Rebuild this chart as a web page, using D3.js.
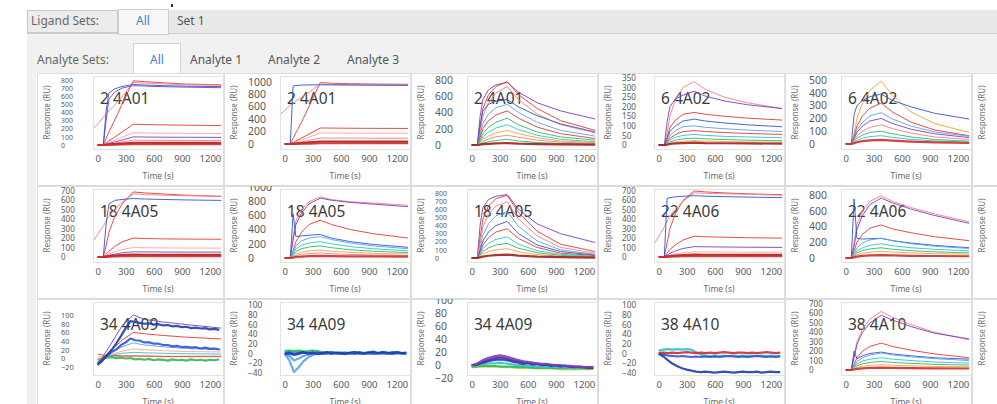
<!DOCTYPE html>
<html>
<head>
<meta charset="utf-8">
<script src="https://cdn.jsdelivr.net/npm/d3@7"></script>
<style>
  html, body { margin: 0; padding: 0; background: #fff; overflow: hidden; }
  svg { display: block; font-family: "Noto Sans", "Open Sans", sans-serif; }
</style>
</head>
<body>
<svg id="chart" width="997" height="404"></svg>
<script>
// ---- data ----
const ligandLabel = "Ligand Sets:";
const ligandTabs = ["All", "Set 1"];
const analyteLabel = "Analyte Sets:";
const analyteTabs = ["All", "Analyte 1", "Analyte 2", "Analyte 3"];

const panelTitles = [
  "2 4A01", "2 4A01", "2 4A01", "6 4A02", "6 4A02",
  "18 4A05", "18 4A05", "18 4A05", "22 4A06", "22 4A06",
  "34 4A09", "34 4A09", "34 4A09", "38 4A10", "38 4A10"
];
const xAxisTitle = "Time (s)";
const yAxisTitle = "Response (RU)";
const xTicks = [0, 300, 600, 900, 1200];
const xDomain = [-50, 1340];

const panelYDomains = [
  [-49, 849], [-80, 1091], [-49, 849], [-21, 360], [-39, 531],
  [-53, 721], [-56, 968], [-49, 849], [-53, 721], [-51, 876],
  [-38, 130], [-44, 106], [-15, 97], [-44, 106], [-53, 721]
];
const panelYTicks = [
  [0, 100, 200, 300, 400, 500, 600, 700, 800],
  [0, 200, 400, 600, 800, 1000],
  [0, 200, 400, 600, 800],
  [0, 50, 100, 150, 200, 250, 300, 350],
  [0, 100, 200, 300, 400, 500, 600],
  [0, 100, 200, 300, 400, 500, 600, 700],
  [0, 200, 400, 600, 800, 1000],
  [0, 100, 200, 300, 400, 500, 600, 700, 800],
  [0, 100, 200, 300, 400, 500, 600, 700],
  [0, 200, 400, 600, 800],
  [-20, 0, 20, 40, 60, 80, 100],
  [-40, -20, 0, 20, 40, 60, 80, 100],
  [-20, 0, 20, 40, 60, 80, 100],
  [-40, -20, 0, 20, 40, 60, 80, 100],
  [0, 100, 200, 300, 400, 500, 600, 700]
];

// sample times (s) for the sparse curves and for the measured noisy traces
const timePoints = [-40, 0, 60, 90, 120, 180, 260, 380, 500, 700, 950, 1320];
const timePointsDense = [0, 50, 100, 150, 200, 250, 300, 350, 400, 450, 500, 550, 600, 650,
  700, 750, 800, 850, 900, 950, 1000, 1050, 1100, 1150, 1200, 1250, 1300];

const curvesP01 = [
  { s: "A", v: [null, 0, 0, 80, 160, 300, 500, 790, 780, 765, 750, 740] },
  { s: "B", v: [210, 260, 340, 380, 420, 490, 590, 770, 762, 752, 742, 735] },
  { s: "E", v: [null, 0, 0, 300, 560, 650, 700, 730, 725, 718, 712, 705] },
  { s: "C", v: [null, 0, 0, 420, 640, 690, 720, 745, 738, 730, 724, 718] },
  { s: "A", v: [null, 0, 0, 25, 50, 95, 160, 255, 252, 248, 244, 240] },
  { s: "J", v: [null, 0, 0, 15, 30, 56, 95, 150, 148, 146, 144, 142] },
  { s: "E", v: [null, 0, 0, 10, 20, 37, 62, 100, 98, 96, 95, 94] },
  { s: "B", v: [null, 0, 0, 6, 12, 22, 37, 60, 59, 58, 57, 56] },
  { s: "I", v: [null, 0, 0, 3, 6, 11, 18, 28, 28, 27, 27, 27] },
  { s: "N", v: [null, 0, 0, 1, 3, 5, 8, 12, 12, 12, 12, 12] }
];
const curvesP02 = [
  { s: "A", v: [null, 0, 0, 90, 180, 350, 600, 985, 975, 968, 962, 958] },
  { s: "B", v: [480, 540, 620, 650, 690, 750, 830, 960, 955, 950, 946, 942] },
  { s: "C", v: [null, 0, 0, 930, 940, 945, 948, 950, 948, 946, 944, 942] },
  { s: "A", v: [null, 0, 0, 25, 50, 95, 160, 257, 255, 253, 251, 250] },
  { s: "J", v: [null, 0, 0, 17, 34, 65, 110, 177, 176, 175, 174, 173] },
  { s: "B", v: [null, 0, 0, 9, 18, 35, 60, 96, 95, 95, 94, 94] },
  { s: "I", v: [null, 0, 0, 4, 8, 15, 25, 40, 40, 39, 39, 39] },
  { s: "N", v: [null, 0, 0, 1, 2, 4, 7, 12, 12, 12, 12, 12] }
];
const curvesP03 = [
  { s: "E", v: [null, 0, 0, 350, 560, 680, 740, 770, 650, 520, 420, 320] },
  { s: "A", v: [null, 0, 0, 200, 450, 620, 720, 780, 620, 450, 300, 180] },
  { s: "B", v: [null, 0, 0, 150, 350, 520, 640, 720, 560, 380, 250, 150] },
  { s: "C", v: [null, 0, 0, 250, 420, 500, 540, 560, 470, 360, 260, 160] },
  { s: "D", v: [null, 0, 0, 120, 260, 380, 460, 500, 400, 280, 180, 110] },
  { s: "A", v: [null, 0, 0, 90, 200, 300, 370, 420, 330, 220, 140, 80] },
  { s: "F", v: [null, 0, 0, 60, 140, 220, 280, 330, 250, 160, 100, 60] },
  { s: "G", v: [null, 0, 0, 40, 100, 160, 210, 250, 190, 120, 70, 40] },
  { s: "H", v: [null, 0, 0, 30, 70, 110, 150, 180, 140, 90, 50, 30] },
  { s: "B", v: [null, 0, 0, 20, 45, 75, 100, 120, 95, 60, 35, 20] },
  { s: "F", v: [null, 0, 0, 10, 25, 40, 55, 70, 50, 30, 20, 10] },
  { s: "I", v: [null, 0, 0, 5, 10, 15, 20, 25, 18, 12, 8, 5] }
];
const curvesP04 = [
  { s: "B", v: [null, 0, 0, 60, 150, 240, 300, 330, 290, 250, 220, 190] },
  { s: "E", v: [null, 0, 0, 120, 200, 240, 260, 280, 255, 230, 210, 190] },
  { s: "A", v: [null, 0, 0, 40, 90, 130, 160, 170, 160, 150, 140, 130] },
  { s: "C", v: [null, 0, 0, 30, 70, 100, 125, 135, 125, 115, 105, 95] },
  { s: "D", v: [null, 0, 0, 20, 50, 75, 95, 100, 92, 85, 78, 70] },
  { s: "A", v: [null, 0, 0, 15, 35, 55, 70, 75, 70, 65, 60, 55] },
  { s: "G", v: [null, 0, 0, 10, 25, 40, 50, 55, 50, 45, 42, 38] },
  { s: "F", v: [null, 0, 0, 6, 15, 25, 32, 36, 32, 28, 25, 22] },
  { s: "H", v: [null, 0, 0, 4, 10, 15, 20, 22, 20, 18, 16, 14] },
  { s: "I", v: [null, 0, 0, 2, 5, 8, 10, 12, 10, 9, 8, 7] }
];
const curvesP05 = [
  { s: "H", v: [null, 0, 0, 80, 200, 320, 420, 490, 380, 250, 160, 90] },
  { s: "C", v: [null, 0, 0, 230, 300, 340, 370, 390, 340, 290, 240, 195] },
  { s: "A", v: [null, 0, 0, 60, 140, 220, 280, 320, 250, 170, 110, 65] },
  { s: "D", v: [null, 0, 0, 50, 110, 170, 220, 245, 195, 140, 95, 60] },
  { s: "E", v: [null, 0, 0, 40, 90, 140, 180, 200, 160, 115, 80, 50] },
  { s: "B", v: [null, 0, 0, 30, 65, 100, 130, 150, 120, 85, 55, 35] },
  { s: "F", v: [null, 0, 0, 20, 45, 70, 90, 100, 80, 55, 35, 22] },
  { s: "G", v: [null, 0, 0, 12, 28, 45, 58, 65, 52, 36, 24, 15] },
  { s: "N", v: [null, 0, 0, 6, 14, 22, 28, 32, 26, 18, 12, 8] }
];
const curvesP06 = [
  { s: "A", v: [null, 0, 0, 120, 260, 420, 560, 690, 680, 668, 655, 642] },
  { s: "B", v: [180, 240, 330, 380, 430, 500, 580, 670, 662, 655, 650, 645] },
  { s: "C", v: [null, 0, 0, 350, 560, 600, 610, 620, 615, 610, 605, 600] },
  { s: "A", v: [null, 0, 0, 30, 60, 110, 160, 200, 196, 192, 190, 188] },
  { s: "J", v: [null, 0, 0, 15, 30, 55, 80, 100, 98, 96, 95, 94] },
  { s: "E", v: [null, 0, 0, 8, 18, 30, 45, 55, 54, 53, 52, 52] },
  { s: "I", v: [null, 0, 0, 5, 10, 15, 20, 25, 24, 24, 23, 23] },
  { s: "N", v: [null, 0, 0, 2, 4, 6, 8, 10, 10, 10, 10, 10] }
];
const curvesP07 = [
  { s: "B", v: [null, 0, 0, 300, 520, 680, 790, 860, 820, 790, 770, 740] },
  { s: "E", v: [null, 0, 0, 250, 470, 630, 760, 840, 810, 780, 755, 720] },
  { s: "A", v: [null, 0, 0, 100, 230, 360, 470, 530, 470, 400, 340, 280] },
  { s: "C", v: [null, 0, 0, 620, 300, 310, 320, 330, 280, 230, 190, 150] },
  { s: "D", v: [null, 0, 0, 80, 170, 240, 280, 300, 260, 210, 170, 130] },
  { s: "G", v: [null, 0, 0, 60, 130, 180, 210, 230, 200, 160, 130, 100] },
  { s: "F", v: [null, 0, 0, 40, 90, 130, 155, 170, 145, 115, 95, 75] },
  { s: "H", v: [null, 0, 0, 25, 55, 80, 100, 110, 95, 80, 65, 55] },
  { s: "B", v: [null, 0, 0, 15, 35, 50, 62, 70, 60, 50, 42, 35] },
  { s: "N", v: [null, 0, 0, 6, 14, 20, 26, 30, 27, 24, 22, 20] }
];
const curvesP08 = [
  { s: "E", v: [null, 0, 0, 400, 620, 720, 760, 780, 600, 420, 300, 190] },
  { s: "A", v: [null, 0, 0, 250, 480, 640, 730, 770, 560, 330, 170, 80] },
  { s: "B", v: [null, 0, 0, 180, 380, 540, 640, 690, 480, 270, 130, 60] },
  { s: "D", v: [null, 0, 0, 120, 280, 420, 520, 570, 390, 210, 100, 45] },
  { s: "C", v: [null, 0, 0, 90, 210, 320, 400, 450, 300, 160, 80, 35] },
  { s: "A", v: [null, 0, 0, 70, 160, 250, 320, 360, 240, 130, 60, 30] },
  { s: "G", v: [null, 0, 0, 50, 115, 180, 230, 260, 170, 90, 45, 22] },
  { s: "F", v: [null, 0, 0, 35, 80, 125, 160, 180, 120, 65, 32, 15] },
  { s: "H", v: [null, 0, 0, 22, 50, 80, 100, 115, 78, 42, 22, 10] },
  { s: "I", v: [null, 0, 0, 8, 18, 28, 36, 42, 30, 18, 10, 5] }
];
const curvesP09 = [
  { s: "A", v: [null, 0, 0, 150, 300, 460, 600, 700, 690, 680, 670, 660] },
  { s: "B", v: [150, 220, 320, 380, 440, 510, 590, 680, 675, 670, 665, 655] },
  { s: "C", v: [null, 0, 0, 620, 630, 638, 644, 650, 645, 640, 635, 630] },
  { s: "A", v: [null, 0, 0, 40, 80, 130, 180, 220, 215, 210, 205, 200] },
  { s: "E", v: [null, 0, 0, 20, 40, 65, 90, 110, 108, 106, 104, 102] },
  { s: "J", v: [null, 0, 0, 10, 20, 35, 45, 55, 54, 53, 52, 52] },
  { s: "I", v: [null, 0, 0, 5, 10, 15, 20, 25, 24, 24, 23, 23] },
  { s: "N", v: [null, 0, 0, 2, 4, 6, 8, 10, 10, 10, 10, 10] }
];
const curvesP10 = [
  { s: "B", v: [null, 0, 0, 200, 420, 600, 720, 790, 720, 640, 560, 460] },
  { s: "E", v: [null, 0, 0, 150, 360, 540, 680, 760, 700, 620, 540, 440] },
  { s: "C", v: [null, 0, 0, 750, 250, 240, 245, 250, 220, 190, 160, 130] },
  { s: "A", v: [null, 0, 0, 90, 200, 300, 380, 420, 370, 320, 270, 220] },
  { s: "D", v: [null, 0, 0, 60, 130, 190, 230, 250, 220, 180, 150, 120] },
  { s: "G", v: [null, 0, 0, 40, 90, 130, 160, 180, 155, 130, 110, 90] },
  { s: "F", v: [null, 0, 0, 30, 65, 95, 115, 130, 110, 92, 78, 65] },
  { s: "H", v: [null, 0, 0, 20, 42, 60, 75, 85, 75, 64, 55, 48] },
  { s: "N", v: [null, 0, 0, 8, 18, 26, 32, 36, 32, 28, 25, 22] }
];
const curvesP11 = [
  { s: "H", v: [null, 4, 4, 4, 5, 5, 5, 5, 5, 4, 4, 4] },
  { s: "F", v: [-3, 0, 2, 3, 1, 2, 0, 1, -2, -1, -3, -1, -4, -2, -3, -5, -2, -4, -3, -5, -2, -4, -3, -5, -3, -4, -2] },
  { s: "A", v: [null, 10, 8, 7, 7, 7, 6, 6, 6, 5, 5, 5] },
  { s: "G", v: [null, -6, 2, 4, 6, 9, 12, 14, 13, 12, 11, 10] },
  { s: "J", v: [null, -8, 2, 5, 8, 12, 17, 22, 20, 18, 16, 15] },
  { s: "D", v: [null, -12, 3, 7, 11, 18, 27, 36, 31, 27, 23, 20] },
  { s: "C", v: [-12, -3, 6, 15, 21, 31, 37, 46, 42, 41, 37, 37, 34, 34, 31, 31, 28, 29, 26, 27, 25, 26, 23, 25, 22, 23, 21] },
  { s: "A", v: [null, -10, 3, 8, 14, 26, 42, 60, 57, 53, 49, 45] },
  { s: "E", v: [null, -15, 6, 16, 26, 47, 75, 100, 90, 84, 78, 70] },
  { s: "K", v: [-15, -5, 8, 20, 35, 52, 70, 86, 84, 82, 80, 81, 78, 79, 76, 77, 74, 75, 72, 73, 70, 71, 69, 70, 67, 68, 66] }
];
const curvesP12 = [
  { s: "G", v: [3, 4, 3, 4, 3, 2, 2, 1, 1, 2, 1, 1, 2, 1, 1, 2, 1, 1, 2, 1, 1, 2, 1, 1, 2, 1, 1] },
  { s: "F", v: [5, 6, 5, 6, 4, 5, 6, 5, 3, 2, 2, 1, 2, 1, 1, 2, 1, 1, 2, 1, 1, 2, 1, 1, 2, 1, 1] },
  { s: "D", v: [0, -14, -38, -28, -16, -8, -3, 0, 1, 0, 1, 0, 1, 0, 0, 1, 0, 1, 0, 0, 1, 0, 1, 0, 0, 1, 0] },
  { s: "D", v: [0, -5, -14, -10, -5, -2, 0, 1, 0, 1, 0, 1, 0, 0, 1, 0, 0, 1, 0, 1, 0, 0, 1, 0, 1, 0, 0] },
  { s: "C", v: [-1, 0, -3, -1, 2, 1, 0, 2, 0, 1, 3, 1, 0, 2, 1, 0, 3, 1, 2, 0, 1, 2, 0, 3, 2, 1, 0] },
  { s: "K", v: [0, 2, -1, 1, 3, 0, 2, -1, 1, 3, 0, 2, 1, -1, 2, 3, 1, 0, 2, 4, 1, 3, 2, 0, 3, 1, 2] }
];
const curvesP13 = [
  { s: "L", v: [-3, -3, -2, -2, -2, -2, -2, -3, -3, -3, -4, -4, -4, -4, -5, -5, -5, -5, -5, -6, -6, -6, -6, -6, -6, -6, -6] },
  { s: "F", v: [-2, -2, -1, -1, -1, -1, -2, -2, -2, -3, -3, -3, -3, -4, -4, -4, -4, -4, -5, -5, -5, -5, -5, -5, -5, -5, -5] },
  { s: "G", v: [-1, 0, 1, 2, 3, 3, 4, 3, 2, 1, 0, 0, -1, -1, -2, -2, -2, -3, -3, -3, -4, -4, -4, -4, -4, -4, -4] },
  { s: "K", v: [0, 1, 3, 5, 7, 8, 9, 8, 7, 5, 4, 2, 3, 1, 2, 0, 1, -1, 0, -2, -1, -2, -3, -2, -3, -4, -3] },
  { s: "P", v: [0, 1, 4, 7, 9, 11, 12, 11, 9, 7, 6, 5, 4, 3, 2, 1, 1, 0, 0, -1, -1, -2, -2, -3, -3, -4, -4] },
  { s: "E", v: [0, 2, 6, 10, 12, 14, 15, 14, 12, 10, 8, 6, 5, 4, 3, 2, 2, 1, 0, 0, -1, -1, -2, -2, -3, -3, -3] }
];
const curvesP14 = [
  { s: "G", v: [6, 8, 9, 8, 9, 8, 9, 8, 3, -2, -4, -5, -4, -5, -4, -5, -4, -5, -4, -5, -4, -5, -4, -5, -4, -5, -4] },
  { s: "C", v: [0, -2, -4, -5, -6, -5, -6, -7, -6, -7, -6, -7, -6, -7, -6, -5, -6, -7, -6, -7, -6, -5, -6, -7, -6, -7, -6] },
  { s: "K", v: [0, -6, -14, -21, -26, -30, -33, -35, -37, -38, -37, -38, -39, -38, -37, -38, -39, -38, -37, -38, -38, -37, -39, -38, -37, -38, -38] },
  { s: "N", v: [1, 2, 1, 2, 1, 2, 3, 2, 1, 2, 1, 2, 1, 2, 3, 2, 1, 2, 2, 1, 2, 1, 2, 3, 2, 1, 2] }
];
const curvesP15 = [
  { s: "B", v: [null, 0, 0, 150, 300, 430, 540, 620, 560, 480, 400, 320] },
  { s: "E", v: [null, 0, 0, 130, 270, 400, 500, 580, 530, 460, 390, 330] },
  { s: "C", v: [null, 0, 0, 200, 120, 150, 175, 190, 170, 150, 130, 115] },
  { s: "A", v: [null, 0, 0, 60, 130, 200, 250, 285, 250, 210, 170, 130] },
  { s: "D", v: [null, 0, 0, 40, 90, 130, 160, 180, 160, 140, 120, 100] },
  { s: "G", v: [null, 0, 0, 30, 65, 95, 115, 130, 115, 100, 85, 72] },
  { s: "F", v: [null, 0, 0, 20, 45, 65, 80, 90, 80, 70, 60, 52] },
  { s: "H", v: [null, 0, 0, 12, 28, 40, 50, 56, 50, 44, 38, 33] },
  { s: "N", v: [null, 0, 0, 5, 12, 18, 22, 25, 22, 20, 18, 16] }
];
const panelCurves = [
  curvesP01, curvesP02, curvesP03, curvesP04, curvesP05,
  curvesP06, curvesP07, curvesP08, curvesP09, curvesP10,
  curvesP11, curvesP12, curvesP13, curvesP14, curvesP15
];

// ---- style ----
const seriesColor = {
  A: "#e53935", B: "#f28080", C: "#2f55d4", D: "#5aa2ea", E: "#7b3fbf", F: "#2fb865",
  G: "#2cc3cf", H: "#f2a23a", I: "#a51d1d", J: "#f5a69e", K: "#1d3fae", L: "#d9cf2b",
  N: "#d62a2a", P: "#5b2a99"
};
const W = 997, H = 404;
const gridX = 37, gridY = 73, cellW = 187, cellH = 113, cols = 5;
const plotDx = 56, plotDy = 3, plotW = 130, plotH = 73;
const blue = "#3f82d2";
const fmt = d3.format("d");

const svg = d3.select("#chart");
const defs = svg.append("defs");
svg.append("rect").attr("width", W).attr("height", H).attr("fill", "#fff");

// ---- tab strips ----
svg.append("rect").attr("x", 27).attr("y", 10).attr("width", W - 27).attr("height", 23).attr("fill", "#e8e8e8");
svg.append("rect").attr("x", 27).attr("y", 33).attr("width", W - 27).attr("height", H - 33).attr("fill", "#f1f1f1");
svg.append("line").attr("x1", 27).attr("x2", W).attr("y1", 33.5).attr("y2", 33.5).attr("stroke", "#cdcdcd");
svg.append("rect").attr("x", 27.5).attr("y", 10.5).attr("width", 90).attr("height", 22).attr("fill", "#ececec").attr("stroke", "#c9c9c9");
svg.append("rect").attr("x", 118.5).attr("y", 9.5).attr("width", 50).attr("height", 25).attr("fill", "#f6f6f6").attr("stroke", "#cfcfcf");
svg.append("rect").attr("x", 171).attr("y", 4).attr("width", 2).attr("height", 3).attr("fill", "#333");

const uiText = (x, y, t, color, anchor) => svg.append("text").attr("x", x).attr("y", y)
  .attr("font-size", 12).attr("fill", color).attr("text-anchor", anchor || "start").text(t);

uiText(31, 25, ligandLabel, "#666");
uiText(143, 25, ligandTabs[0], blue, "middle");
uiText(177, 25, ligandTabs[1], "#555");

svg.append("path").attr("d", "M133.5,73 V43.5 H180.5 V73").attr("fill", "#fff").attr("stroke", "#d3d3d3");
uiText(37, 64, analyteLabel, "#666");
const analyteX = [157, 190, 268, 347];
analyteTabs.forEach((t, i) => uiText(analyteX[i], 64, t, i === 0 ? blue : "#555", i === 0 ? "middle" : "start"));

// ---- panel grid ----
svg.append("rect").attr("x", gridX - 1).attr("y", gridY).attr("width", W - gridX + 1).attr("height", H - gridY).attr("fill", "#fff");

const line = d3.line().defined((d) => d[1] != null);

const drawCell = (cx, cy, id) => {
  defs.append("clipPath").attr("id", `cell-${id}`).append("rect")
    .attr("x", cx).attr("y", cy).attr("width", cellW).attr("height", cellH);
  const g = svg.append("g").attr("clip-path", `url(#cell-${id})`);
  g.append("rect").attr("x", cx + 0.5).attr("y", cy + 0.5).attr("width", cellW - 1).attr("height", cellH - 1)
    .attr("fill", "#fff").attr("stroke", "#dcdcdc");
  g.append("text")
    .attr("transform", `translate(${cx + 13},${cy + plotDy + plotH / 2}) rotate(-90)`)
    .attr("text-anchor", "middle").attr("font-size", 8).attr("fill", "#707070").text(yAxisTitle);
  return g;
};

panelTitles.forEach((title, i) => {
  const row = Math.floor(i / cols), col = i % cols;
  const cx = gridX + col * cellW, cy = gridY + row * cellH;
  const px = cx + plotDx, py = cy + plotDy;
  const g = drawCell(cx, cy, i);

  const x = d3.scaleLinear().domain(xDomain).range([px, px + plotW]);
  const y = d3.scaleLinear().domain(panelYDomains[i]).range([py + plotH, py]);

  g.append("rect").attr("x", px + 0.5).attr("y", py + 0.5).attr("width", plotW).attr("height", plotH)
    .attr("fill", "#fff").attr("stroke", "#e2e2e2");

  // y tick labels, left aligned as in the instrument software (crowded scales get smaller text)
  const ticks = panelYTicks[i];
  const spacing = Math.abs(y(ticks[0]) - y(ticks[1]));
  const fs = Math.max(6.5, Math.min(10.5, spacing * 0.85));
  const yAxis = g.append("g").attr("transform", `translate(${cx + 24},0)`)
    .call(d3.axisLeft(y).tickValues(ticks).tickFormat(fmt).tickSize(0).tickPadding(0))
    .attr("font-family", null).attr("font-size", null);
  yAxis.select(".domain").remove();
  yAxis.selectAll("text").attr("x", 0).attr("text-anchor", "start")
    .attr("fill", "#5a5a5a").style("font-size", `${fs}px`);

  const xAxis = g.append("g").attr("transform", `translate(0,${py + plotH})`)
    .call(d3.axisBottom(x).tickValues(xTicks).tickFormat(fmt).tickSize(0).tickPadding(6))
    .attr("font-family", null).attr("font-size", null);
  xAxis.select(".domain").remove();
  xAxis.selectAll("text").attr("fill", "#5a5a5a").style("font-size", "9.5px");

  g.append("text").attr("x", px + plotW / 2).attr("y", cy + 106).attr("text-anchor", "middle")
    .attr("font-size", 8.5).attr("fill", "#6a6a6a").text(xAxisTitle);

  g.append("text").attr("x", px + 7).attr("y", cy + 31).attr("font-size", 15.5)
    .attr("fill", "#3a3a3a").text(title);

  defs.append("clipPath").attr("id", `plot-${i}`).append("rect")
    .attr("x", px + 1).attr("y", py + 1).attr("width", plotW - 1).attr("height", plotH - 1);
  const lines = g.append("g").attr("clip-path", `url(#plot-${i})`);
  panelCurves[i].forEach((c) => {
    const dense = c.v.length === timePointsDense.length;
    const ts = dense ? timePointsDense : timePoints;
    const pts = c.v.map((v, k) => [x(ts[k]), v == null ? null : y(v)]);
    const thick = dense || c.s === "I" || c.s === "N";
    lines.append("path").attr("d", line(pts)).attr("fill", "none")
      .attr("stroke", seriesColor[c.s]).attr("stroke-width", thick ? 2.2 : 1)
      .attr("stroke-linejoin", "round").attr("opacity", 0.9);
  });
});

// partially visible sixth column
[0, 1, 2].forEach((row) => drawCell(gridX + cols * cellW, gridY + row * cellH, `edge-${row}`));
</script>
</body>
</html>
